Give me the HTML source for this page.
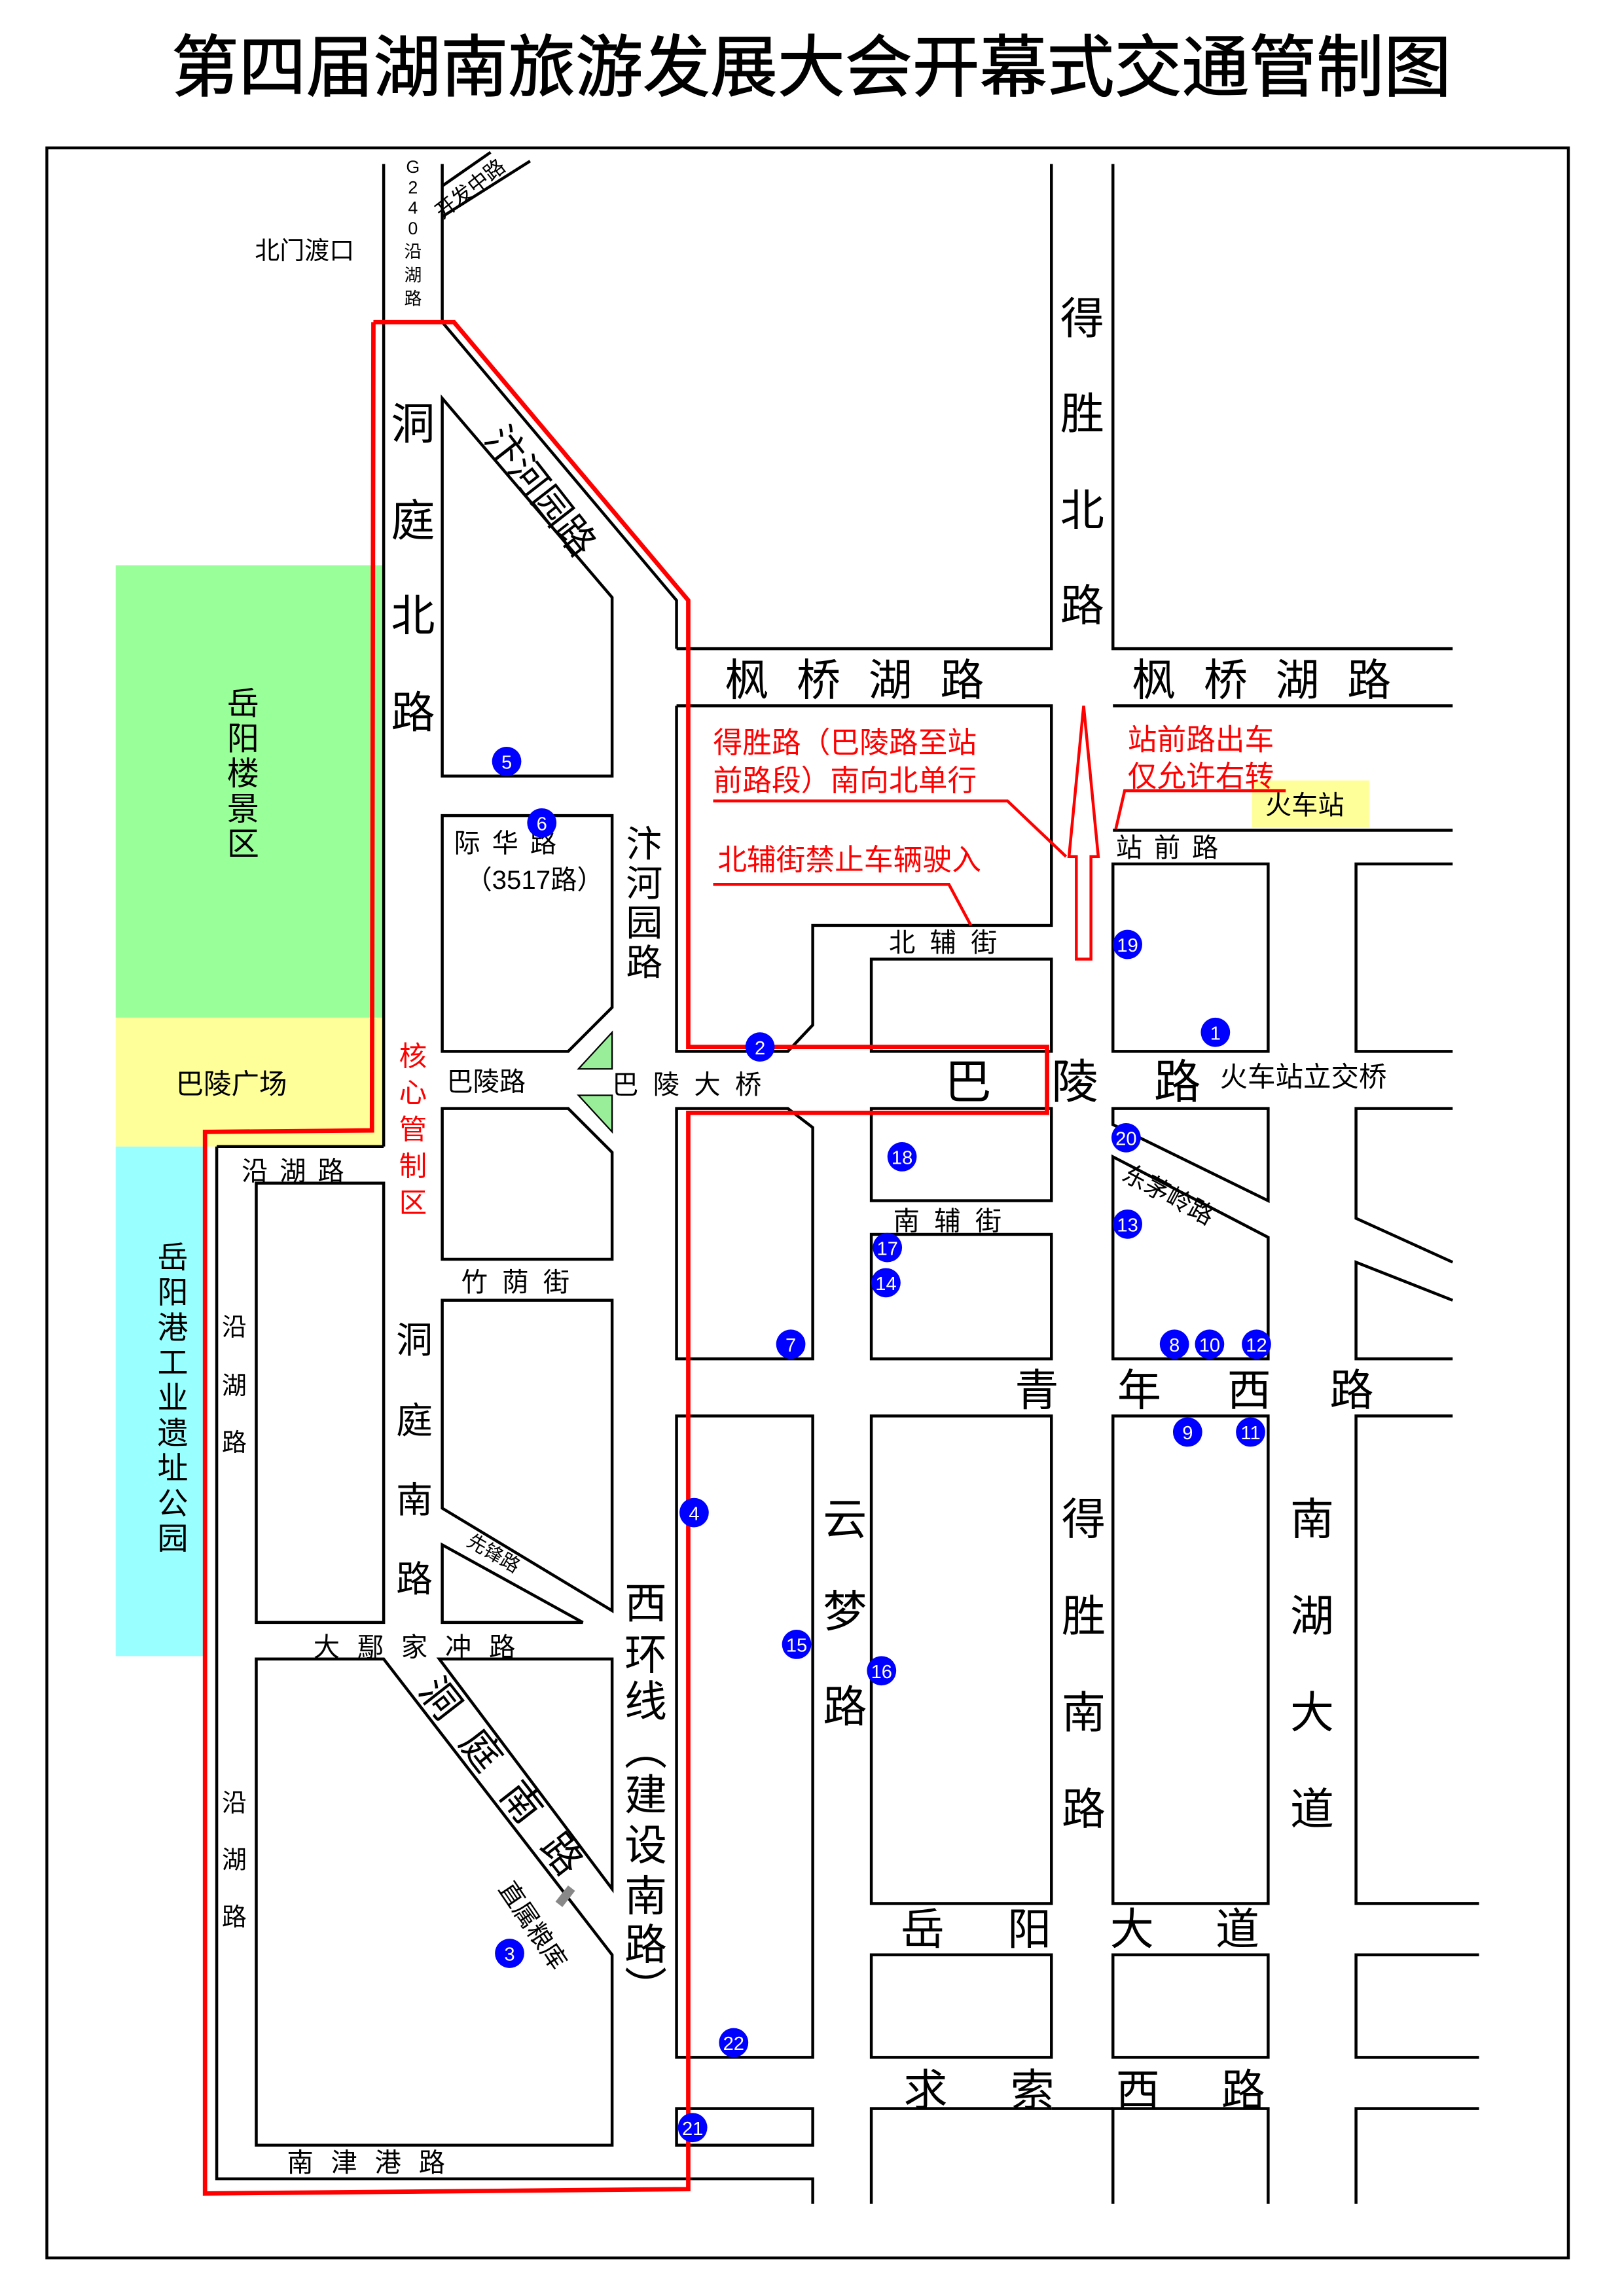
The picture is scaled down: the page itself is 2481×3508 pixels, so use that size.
<!DOCTYPE html>
<html><head><meta charset="utf-8"><style>
html,body{margin:0;padding:0;background:#fff;}
svg{display:block;}
text{font-family:"Liberation Sans","Noto Sans CJK SC",sans-serif;fill:#000;}
.r{fill:#f00;}
.n{fill:#fff;font-size:13px;text-anchor:middle;}
</style></head><body>
<svg width="2481" height="3508" viewBox="0 0 1109 1568" preserveAspectRatio="none" xmlns="http://www.w3.org/2000/svg">
<rect width="1109" height="1568" fill="#fff"/>
<text x="554" y="62" font-size="46" text-anchor="middle" stroke="#000" stroke-width="0.6">第四届湖南旅游发展大会开幕式交通管制图</text>
<rect x="32" y="101" width="1039" height="1441" fill="none" stroke="#000" stroke-width="2"/>
<rect x="79" y="386" width="183" height="309" fill="#99ff99"/>
<rect x="79" y="695" width="183" height="88" fill="#ffff99"/>
<rect x="79" y="783" width="62" height="348" fill="#99ffff"/>
<polygon points="395,730 418,705 418,730" fill="#99ee99" stroke="#000" stroke-width="1"/>
<polygon points="395,748 418,748 418,773" fill="#99ee99" stroke="#000" stroke-width="1"/>
<polygon points="340,1270 370,1300 395,1335 378,1358 332,1300" fill="#ffff99"/>
<g fill="#fff" stroke="#000" stroke-width="2" stroke-linejoin="miter">
<polyline fill="none" points="262,112 262,783"/>
<polyline fill="none" points="302,112 302,220"/>
<polyline fill="none" points="302,148 362,110"/>
<polyline fill="none" points="302,127 335,104"/>
<polyline fill="none" points="302,220 462,410 462,443"/>
<polygon points="302,272 418,408 418,530 302,530"/>
<polygon points="302,557 418,557 418,688 388,718 302,718"/>
<polygon points="302,757 388,757 418,787 418,860 302,860"/>
<polygon points="302,888 418,888 418,1100 302,1030"/>
<polygon points="302,1055 398,1108 302,1108"/>
<polyline fill="none" points="148,783 262,783"/>
<polyline fill="none" points="148,783 148,1488 555,1488 555,1505"/>
<rect x="175" y="808" width="87" height="300"/>
<polygon points="175,1133 262,1133 418,1335 418,1465 175,1465"/>
<polygon points="300,1133 418,1133 418,1290"/>
<polyline fill="none" points="462,443 718,443 718,112"/>
<polyline fill="none" points="760,112 760,443 992,443"/>
<polyline fill="none" points="760,482 992,482"/>
<polyline fill="none" points="462,482 718,482 718,632 555,632 555,700 538,718 462,718 462,482"/>
<rect x="595" y="655" width="123" height="63"/>
<polyline fill="none" points="760,567 992,567"/>
<rect x="760" y="590" width="106" height="128"/>
<polyline fill="none" points="992,590 926,590 926,718 992,718"/>
<polygon points="462,757 538,757 555,770 555,928 462,928"/>
<rect x="595" y="757" width="123" height="63"/>
<rect x="595" y="843" width="123" height="85"/>
<polygon points="760,757 866,757 866,820 760,768"/>
<polygon points="760,790 866,845 866,928 760,928"/>
<polyline fill="none" points="992,757 926,757 926,832 992,862"/>
<polyline fill="none" points="992,888 926,862 926,928 992,928"/>
<rect x="462" y="967" width="93" height="438"/>
<rect x="595" y="967" width="123" height="333"/>
<rect x="760" y="967" width="106" height="333"/>
<polyline fill="none" points="992,967 926,967 926,1300 1010,1300"/>
<rect x="595" y="1335" width="123" height="70"/>
<rect x="760" y="1335" width="106" height="70"/>
<polyline fill="none" points="1010,1335 926,1335 926,1405 1010,1405"/>
<rect x="462" y="1440" width="93" height="25"/>
<polyline fill="none" points="595,1505 595,1440 718,1440"/>
<polyline fill="none" points="760,1505 760,1440 866,1440 866,1505"/>
<polyline fill="none" points="926,1505 926,1440 1010,1440"/>
<polyline fill="none" points="718,1440 760,1440"/>
</g>
<rect x="383" y="1288" width="6" height="14" fill="#888" transform="rotate(38 386 1295)"/>
<polyline fill="none" stroke="#f00" stroke-width="3" points="255,220 310,220 470,410 470,715 715,715 715,760 470,760 470,1495 140,1498 140,773 254,772 255,220"/>
<polygon points="740,482 750,585 745,585 745,655 735,655 735,585 730,585" fill="#fff" stroke="#f00" stroke-width="2"/>
<polyline fill="none" stroke="#f00" stroke-width="2" points="487,547 688,547 728,585"/>
<polyline fill="none" stroke="#f00" stroke-width="2" points="487,604 648,604 663,632"/>
<rect x="855" y="533" width="80" height="32" fill="#ffff99"/>
<polyline fill="none" stroke="#f00" stroke-width="2" points="762,566 768,540 878,540"/>
<text x="174" y="177" font-size="17">北门渡口</text>
<g font-size="12" text-anchor="middle"><text x="282" y="118">G</text><text x="282" y="132">2</text><text x="282" y="146">4</text><text x="282" y="160">0</text><text x="282" y="176">沿</text><text x="282" y="192">湖</text><text x="282" y="208">路</text></g>
<text x="302" y="150" font-size="14" transform="rotate(-38 302 150)">开发中路</text>
<g font-size="30" text-anchor="middle"><text x="282" y="300">洞</text><text x="282" y="366">庭</text><text x="282" y="431">北</text><text x="282" y="497">路</text></g>
<text x="330" y="300" font-size="26" transform="rotate(52 330 300)">汴河园路</text>
<g font-size="30" text-anchor="middle"><text x="739" y="228">得</text><text x="739" y="293">胜</text><text x="739" y="359">北</text><text x="739" y="424">路</text></g>
<text x="495" y="475" font-size="30" letter-spacing="19">枫桥湖路</text>
<text x="773" y="475" font-size="30" letter-spacing="19">枫桥湖路</text>
<g font-size="20" class="r"><text class="r" x="487" y="514">得胜路（巴陵路至站</text><text class="r" x="487" y="540">前路段）南向北单行</text><text class="r" x="490" y="594">北辅街禁止车辆驶入</text><text class="r" x="770" y="512">站前路出车</text><text class="r" x="770" y="537">仅允许右转</text></g>
<text x="864" y="556" font-size="18">火车站</text>
<text x="762" y="585" font-size="18" letter-spacing="8">站前路</text>
<text x="607" y="650" font-size="18" letter-spacing="10">北辅街</text>
<g font-size="22" text-anchor="middle"><text x="166" y="488">岳</text><text x="166" y="512">阳</text><text x="166" y="536">楼</text><text x="166" y="560">景</text><text x="166" y="584">区</text></g>
<text x="120" y="747" font-size="19">巴陵广场</text>
<g font-size="21" text-anchor="middle"><text x="118" y="866">岳</text><text x="118" y="890">阳</text><text x="118" y="914">港</text><text x="118" y="938">工</text><text x="118" y="962">业</text><text x="118" y="986">遗</text><text x="118" y="1010">址</text><text x="118" y="1034">公</text><text x="118" y="1058">园</text></g>
<text x="310" y="582" font-size="18" letter-spacing="8">际华路</text>
<text x="318" y="607" font-size="18">（3517路）</text>
<g font-size="25" text-anchor="middle"><text x="440" y="585">汴</text><text x="440" y="612">河</text><text x="440" y="639">园</text><text x="440" y="666">路</text></g>
<g font-size="19" text-anchor="middle"><text class="r" x="282" y="728">核</text><text class="r" x="282" y="753">心</text><text class="r" x="282" y="778">管</text><text class="r" x="282" y="803">制</text><text class="r" x="282" y="828">区</text></g>
<text x="305" y="745" font-size="18">巴陵路</text>
<text x="418" y="747" font-size="18" letter-spacing="10">巴陵大桥</text>
<text x="645" y="750" font-size="32">巴</text>
<text x="718" y="750" font-size="32">陵</text>
<text x="788" y="750" font-size="32">路</text>
<text x="833" y="742" font-size="19">火车站立交桥</text>
<text x="765" y="805" font-size="17" transform="rotate(28 765 805)">东茅岭路</text>
<text x="610" y="840" font-size="18" letter-spacing="10">南辅街</text>
<text x="165" y="806" font-size="18" letter-spacing="8">沿湖路</text>
<text x="315" y="882" font-size="18" letter-spacing="10">竹荫街</text>
<g font-size="17" text-anchor="middle"><text x="160" y="912">沿</text><text x="160" y="952">湖</text><text x="160" y="991">路</text></g>
<g font-size="25" text-anchor="middle"><text x="283" y="924">洞</text><text x="283" y="979">庭</text><text x="283" y="1033">南</text><text x="283" y="1087">路</text></g>
<text x="318" y="1055" font-size="13" transform="rotate(30 318 1055)">先锋路</text>
<text x="693" y="960" font-size="30">青</text><text x="763" y="960" font-size="30">年</text><text x="838" y="960" font-size="30">西</text><text x="908" y="960" font-size="30">路</text>
<g font-size="30" text-anchor="middle"><text x="577" y="1048">云</text><text x="577" y="1111">梦</text><text x="577" y="1176">路</text><text x="740" y="1048">得</text><text x="740" y="1114">胜</text><text x="740" y="1180">南</text><text x="740" y="1246">路</text><text x="896" y="1048">南</text><text x="896" y="1114">湖</text><text x="896" y="1180">大</text><text x="896" y="1246">道</text></g>
<g font-size="29" text-anchor="middle"><text x="441" y="1105">西</text><text x="441" y="1140">环</text><text x="441" y="1172">线</text><text x="441" y="1205">︵</text><text x="441" y="1236">建</text><text x="441" y="1270">设</text><text x="441" y="1305">南</text><text x="441" y="1338">路</text><text x="441" y="1368">︶</text></g>
<text x="214" y="1131" font-size="18" letter-spacing="12">大鄢家冲路</text>
<text x="285" y="1155" font-size="27" transform="rotate(52 285 1155)" letter-spacing="18">洞庭南路</text>
<text x="340" y="1290" font-size="17" transform="rotate(56 340 1290)">直属粮库</text>
<g font-size="17" text-anchor="middle"><text x="160" y="1237">沿</text><text x="160" y="1276">湖</text><text x="160" y="1315">路</text></g>
<text x="196" y="1483" font-size="18" letter-spacing="12">南津港路</text>
<text x="615" y="1328" font-size="30">岳</text><text x="688" y="1328" font-size="30">阳</text><text x="758" y="1328" font-size="30">大</text><text x="830" y="1328" font-size="30">道</text>
<text x="617" y="1438" font-size="30">求</text><text x="690" y="1438" font-size="30">索</text><text x="762" y="1438" font-size="30">西</text><text x="834" y="1438" font-size="30">路</text>
<g fill="#0000ff">
<circle cx="830" cy="705" r="10"/><circle cx="519" cy="715" r="10"/><circle cx="348" cy="1334" r="10"/><circle cx="474" cy="1033" r="10"/><circle cx="346" cy="520" r="10"/><circle cx="370" cy="562" r="10"/><circle cx="540" cy="918" r="10"/><circle cx="802" cy="918" r="10"/><circle cx="811" cy="978" r="10"/><circle cx="826" cy="918" r="10"/><circle cx="854" cy="978" r="10"/><circle cx="858" cy="918" r="10"/><circle cx="770" cy="836" r="10"/><circle cx="605" cy="876" r="10"/><circle cx="544" cy="1123" r="10"/><circle cx="602" cy="1141" r="10"/><circle cx="606" cy="852" r="10"/><circle cx="616" cy="790" r="10"/><circle cx="770" cy="645" r="10"/><circle cx="769" cy="777" r="10"/><circle cx="473" cy="1453" r="10"/><circle cx="501" cy="1395" r="10"/>
</g>
<g class="n">
<text class="n" x="830" y="710">1</text><text class="n" x="519" y="720">2</text><text class="n" x="348" y="1339">3</text><text class="n" x="474" y="1038">4</text><text class="n" x="346" y="525">5</text><text class="n" x="370" y="567">6</text><text class="n" x="540" y="923">7</text><text class="n" x="802" y="923">8</text><text class="n" x="811" y="983">9</text><text class="n" x="826" y="923">10</text><text class="n" x="854" y="983">11</text><text class="n" x="858" y="923">12</text><text class="n" x="770" y="841">13</text><text class="n" x="605" y="881">14</text><text class="n" x="544" y="1128">15</text><text class="n" x="602" y="1146">16</text><text class="n" x="606" y="857">17</text><text class="n" x="616" y="795">18</text><text class="n" x="770" y="650">19</text><text class="n" x="769" y="782">20</text><text class="n" x="473" y="1458">21</text><text class="n" x="501" y="1400">22</text>
</g>
</svg>
</body></html>
